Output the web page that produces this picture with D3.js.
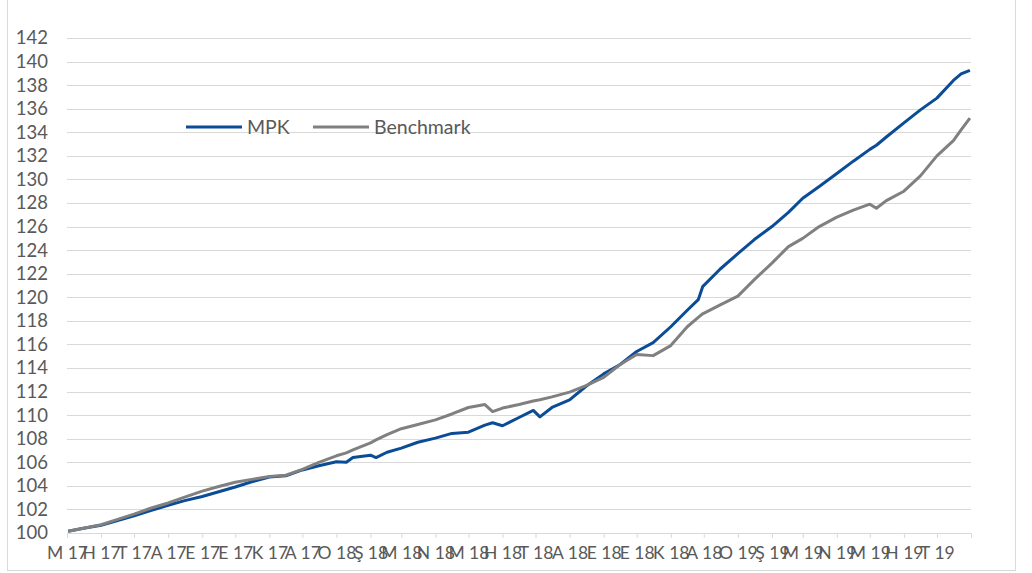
<!DOCTYPE html>
<meta charset="utf-8">
<style>
    body { margin: 0; background: #fff; }
    text { font-family: Lato, "Open Sans", sans-serif; fill: #595959; }
    .grid line { stroke: #d9d9d9; stroke-width: 1px; shape-rendering: crispEdges; }
</style>

<svg width="1032" height="573" id="chart"></svg>

<script src="https://cdn.jsdelivr.net/npm/d3@7/dist/d3.min.js"></script>
<script>

    // Dates of the samples (roughly twice a month, plus a few dips)
    var dates = [
        "2017-05-02","2017-05-16","2017-06-01","2017-06-16","2017-07-01","2017-07-16",
        "2017-08-01","2017-08-16","2017-09-01","2017-09-16","2017-10-01","2017-10-16",
        "2017-11-01","2017-11-16","2017-12-01","2017-12-16","2018-01-01","2018-01-10",
        "2018-01-16","2018-02-01","2018-02-06","2018-02-16","2018-03-01","2018-03-16",
        "2018-04-01","2018-04-16","2018-05-01","2018-05-16","2018-05-23","2018-06-01",
        "2018-06-16","2018-06-29","2018-07-05","2018-07-16","2018-08-01","2018-08-16",
        "2018-09-01","2018-09-16","2018-10-01","2018-10-16","2018-11-01","2018-11-16",
        "2018-11-26","2018-11-30","2018-12-16","2019-01-01","2019-01-16","2019-02-01",
        "2019-02-16","2019-03-01","2019-03-16","2019-04-01","2019-04-16","2019-05-01",
        "2019-05-07","2019-05-16","2019-06-01","2019-06-16","2019-07-01","2019-07-16",
        "2019-07-23","2019-07-31"
    ];

    var mpk = [
        100.15,100.4,100.65,101.05,101.45,101.9,
        102.35,102.75,103.1,103.5,103.9,104.35,
        104.75,104.85,105.35,105.7,106.05,106.0,
        106.4,106.6,106.4,106.85,107.2,107.7,
        108.05,108.45,108.55,109.15,109.35,109.1,
        109.8,110.4,109.85,110.65,111.3,112.45,
        113.5,114.3,115.4,116.15,117.5,118.9,
        119.8,120.9,122.4,123.7,124.9,126.0,
        127.2,128.4,129.4,130.5,131.55,132.55,
        132.9,133.6,134.8,135.9,136.9,138.4,
        138.95,139.25
    ];

    var benchmark = [
        100.15,100.4,100.7,101.15,101.6,102.1,
        102.55,103.05,103.55,103.95,104.3,104.55,
        104.8,104.9,105.4,106.0,106.55,106.8,
        107.05,107.65,107.9,108.35,108.85,109.2,
        109.6,110.1,110.65,110.9,110.3,110.6,
        110.9,111.2,111.3,111.55,111.95,112.5,
        113.2,114.3,115.15,115.05,115.9,117.5,
        118.3,118.6,119.35,120.1,121.5,122.9,
        124.3,125.0,126.0,126.8,127.4,127.9,
        127.55,128.2,129.0,130.3,132.0,133.3,
        134.2,135.2
    ];

    // Turkish month initials + year, one per month tick
    var monthLabels = ["M 17","H 17","T 17","A 17","E 17","E 17","K 17","A 17",
        "O 18","Ş 18","M 18","N 18","M 18","H 18","T 18","A 18","E 18","E 18","K 18","A 18",
        "O 19","Ş 19","M 19","N 19","M 19","H 19","T 19"];

    var yTicks = d3.range(100, 143, 2);

    var seriesNames = ["MPK", "Benchmark"];
    var seriesColors = ["#0b4c97", "#808080"];

    var parse = d3.utcParse("%Y-%m-%d");

    var svg = d3.select("#chart");

    // light frame round the chart (top edge falls outside the picture)
    svg.append("rect")
        .attr("x", 7.5).attr("y", -5)
        .attr("width", 1008).attr("height", 575.5)
        .style("fill", "none")
        .style("stroke", "#d9d9d9");

    var x = d3.scaleUtc()
        .domain([parse("2017-05-01"), parse("2019-08-01")])
        .range([67, 971]);

    var y = d3.scaleLinear().domain([100, 142]).range([533, 38]);

    // horizontal gridlines (the 100 line doubles as the x axis)
    svg.append("g").attr("class", "grid")
        .selectAll("line")
        .data(yTicks)
        .enter().append("line")
        .attr("x1", 67).attr("x2", 971)
        .attr("y1", d => Math.round(y(d)) + 0.5)
        .attr("y2", d => Math.round(y(d)) + 0.5);

    // y labels
    svg.append("g")
        .selectAll("text")
        .data(yTicks)
        .enter().append("text")
        .attr("x", 48)
        .attr("y", d => y(d))
        .attr("dy", "0.35em")
        .attr("text-anchor", "end")
        .style("font-size", "18.5px")
        .text(d => d);

    // x axis: a tick at every month start, label under each except the last
    var months = d3.utcMonth.range(parse("2017-05-01"), parse("2019-08-02"));
    var xAxis = d3.axisBottom(x)
        .tickValues(months)
        .tickSize(5)
        .tickFormat((d, i) => monthLabels[i] || "");

    var gx = svg.append("g")
        .attr("transform", "translate(0,533)")
        .call(xAxis);
    gx.select(".domain").remove();
    gx.selectAll(".tick line").style("stroke", "#d9d9d9");
    gx.selectAll(".tick text")
        .attr("y", 14)
        .style("font-size", "17.5px")
        .style("font-family", "Lato, sans-serif")
        .style("fill", "#595959");

    // the two lines
    var line = d3.line()
        .x((d, i) => x(parse(dates[i])))
        .y(d => y(d));

    [mpk, benchmark].forEach(function(values, k) {
        svg.append("path")
            .datum(values)
            .attr("d", line)
            .style("fill", "none")
            .style("stroke", seriesColors[k])
            .style("stroke-width", "3px")
            .style("stroke-linejoin", "round");
    });

    // legend
    var legendX = [186, 313];
    seriesNames.forEach(function(name, k) {
        var g = svg.append("g").attr("transform", "translate(" + legendX[k] + ",127)");
        g.append("line")
            .attr("x1", 0).attr("x2", 56)
            .style("stroke", seriesColors[k])
            .style("stroke-width", "3px");
        g.append("text")
            .attr("x", 61)
            .attr("dy", "0.35em")
            .style("font-size", "19.5px")
            .text(name);
    });

</script>
